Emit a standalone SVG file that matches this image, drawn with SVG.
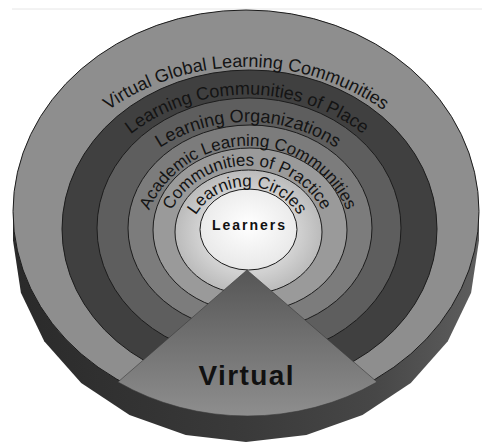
<svg xmlns="http://www.w3.org/2000/svg" width="482" height="443" viewBox="0 0 482 443">
<defs>
<style>
.ring{stroke:#1c1c1c;stroke-width:1}
.arc{font-family:"Liberation Sans",Arial,sans-serif;fill:#141414}
.lbl{font-family:"Liberation Sans",Arial,sans-serif;font-weight:bold;fill:#111;text-anchor:middle}
</style>
<linearGradient id="side" x1="0" y1="0" x2="1" y2="0">
<stop offset="0" stop-color="#2a2a2a"/>
<stop offset="0.5" stop-color="#3a3a3a"/>
<stop offset="0.78" stop-color="#474747"/>
<stop offset="1" stop-color="#5e5e5e"/>
</linearGradient>
<linearGradient id="wedge" x1="0" y1="0" x2="0" y2="1">
<stop offset="0" stop-color="#565656"/>
<stop offset="1" stop-color="#8e8e8e"/>
</linearGradient>
<radialGradient id="inner" cx="0.5" cy="0.45" r="0.6">
<stop offset="0" stop-color="#ffffff"/>
<stop offset="1" stop-color="#e6e6e6"/>
</radialGradient>
<radialGradient id="lc" cx="0.5" cy="0.5" r="0.55">
<stop offset="0.6" stop-color="#d2d2d2"/>
<stop offset="1" stop-color="#b4b4b4"/>
</radialGradient>
<path id="p1" d="M6.9 286.1 A240 240 0 0 1 485.1 286.1"/>
<path id="p2" d="M56.7 269.3 A191 191 0 0 1 437.3 269.3"/>
<path id="p3" d="M86.6 269.9 A162 162 0 0 1 409.4 269.9"/>
<path id="p4" d="M140.4 244.6 A108 108 0 0 1 355.6 244.6"/>
<path id="p5" d="M161.3 244.5 A86 86 0 0 1 332.7 244.5"/>
<path id="p6" d="M186.8 242.1 A60.4 60.4 0 0 1 307.2 242.1"/>
</defs>
<rect width="482" height="443" fill="#ffffff"/>
<line x1="12" y1="9" x2="482" y2="9" stroke="#e6e6e6" stroke-width="1"/>
<g id="cylinder-side">
<polygon points="479,211.5 479,240.5 471.1,292.7 447.8,341.3 410.8,383 362.5,415 306.3,435.1 246,442 185.7,435.1 129.5,415 81.2,383 44.2,341.3 20.9,292.7 13,240.5 13,211.5" fill="url(#side)"/>
</g>
<g id="virtual-global-learning-communities">
<ellipse class="ring" cx="246" cy="211.5" rx="233" ry="201.5" fill="#8e8e8e"/>
</g>
<g id="learning-communities-of-place">
<ellipse class="ring" cx="249.5" cy="229" rx="187.5" ry="159" fill="#404040"/>
</g>
<g id="learning-organizations">
<ellipse class="ring" cx="249" cy="228" rx="152" ry="130" fill="#5e5e5e"/>
</g>
<g id="academic-learning-communities">
<ellipse class="ring" cx="250" cy="228" rx="122" ry="103" fill="#7c7c7c"/>
</g>
<g id="communities-of-practice">
<ellipse class="ring" cx="250" cy="230" rx="97" ry="82" fill="#9a9a9a"/>
</g>
<g id="learning-circles">
<ellipse class="ring" cx="248.5" cy="232" rx="73.5" ry="62" fill="url(#lc)"/>
</g>
<g id="learners">
<ellipse class="ring" cx="248.5" cy="229.5" rx="48.5" ry="40.5" fill="url(#inner)"/>
<text class="lbl" x="248.5" y="230" font-size="14" textLength="73" lengthAdjust="spacing">Learners</text>
</g>
<g id="ring-labels">
<text class="arc" font-size="18"><textPath href="#p1" startOffset="50%" text-anchor="middle">Virtual Global Learning Communities</textPath></text>
<text class="arc" font-size="18"><textPath href="#p2" startOffset="50%" text-anchor="middle">Learning Communities of Place</textPath></text>
<text class="arc" font-size="18"><textPath href="#p3" startOffset="50%" text-anchor="middle">Learning Organizations</textPath></text>
<text class="arc" font-size="17"><textPath href="#p4" startOffset="50%" text-anchor="middle">Academic Learning Communities</textPath></text>
<text class="arc" font-size="17"><textPath href="#p5" startOffset="50%" text-anchor="middle">Communities of Practice</textPath></text>
<text class="arc" font-size="17"><textPath href="#p6" startOffset="50%" text-anchor="middle">Learning Circles</textPath></text>
</g>
<g id="virtual">
<path d="M247 270 L118 382 A233 201.5 0 0 0 377 382 Z" fill="url(#wedge)" stroke="#3a3a3a" stroke-width="0.6"/>
<text class="lbl" x="246" y="385" font-size="28" textLength="95" lengthAdjust="spacing">Virtual</text>
</g>
</svg>
